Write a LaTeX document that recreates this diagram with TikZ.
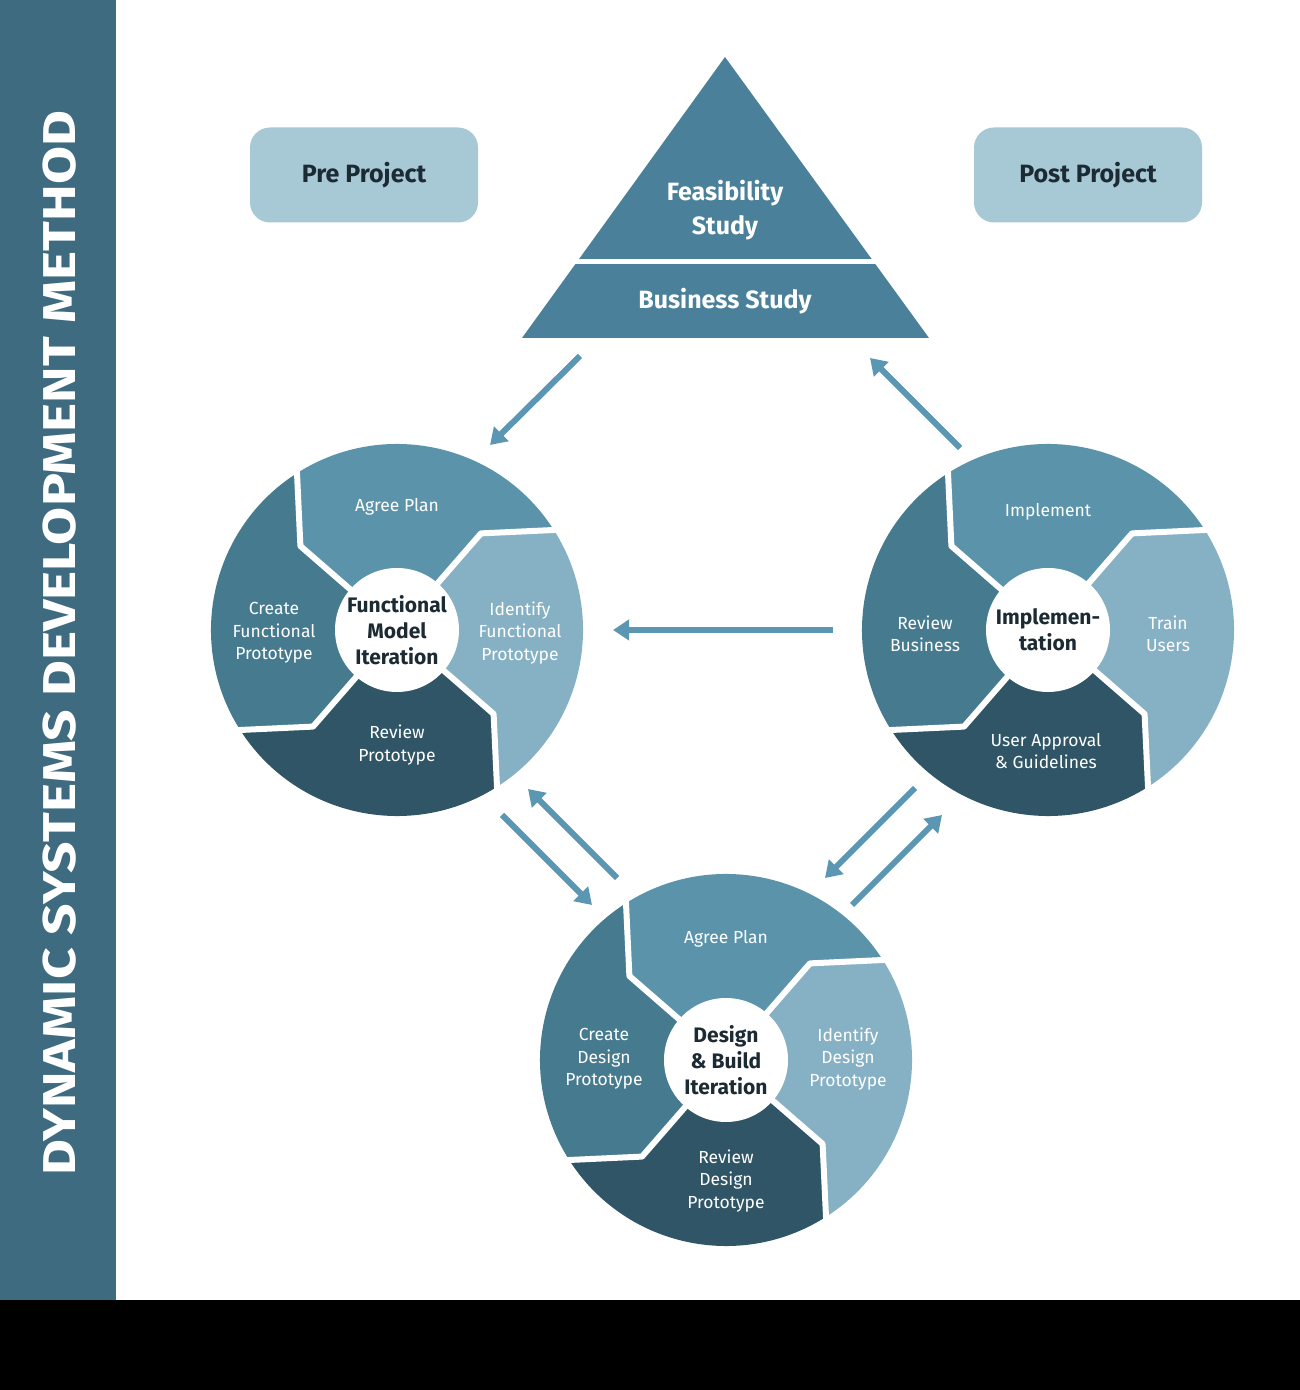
\documentclass[tikz,border=0pt]{standalone}
\usepackage{fontspec}
\setmainfont{Fira Sans}
\usetikzlibrary{arrows.meta}
\definecolor{cTop}{HTML}{5B93AA}
\definecolor{cRight}{HTML}{86B1C4}
\definecolor{cBot}{HTML}{2F5566}
\definecolor{cLeft}{HTML}{467A8F}
\definecolor{cSide}{HTML}{3E6B80}
\definecolor{cTri}{HTML}{4A8099}
\definecolor{cBox}{HTML}{A7C8D5}
\definecolor{cArr}{HTML}{5B97B3}
\definecolor{cTxt}{HTML}{1C2A33}
\tikzset{
  seg/.style={white,font=\fontsize{17.5}{22.5}\selectfont,align=center},
  hub/.style={circle,fill=white,minimum size=124pt,inner sep=0pt,text=cTxt,font=\fontsize{21}{26}\selectfont\bfseries,align=center},
  arr/.style={cArr,line width=6pt,-{Triangle[width=20pt,length=16pt]}},
  pbox/.style={fill=cBox,rounded corners=20pt,minimum width=228pt,minimum height=95pt,text=cTxt,font=\fontsize{25}{30}\selectfont\bfseries},
  tri/.style={white,font=\fontsize{25}{34}\selectfont\bfseries,align=center}
}
\newcommand\mywheel[2]{%
 \begin{scope}[shift={#1}]
  \def\R{186}
  \fill[cTop] (0,0)--(139:128)--(122:\R) arc[start angle=122,end angle=32,radius=\R]--(49:128)--cycle;
  \fill[cRight] (0,0)--(49:128)--(32:\R) arc[start angle=32,end angle=-58,radius=\R]--(-41:128)--cycle;
  \fill[cBot] (0,0)--(-41:128)--(-58:\R) arc[start angle=-58,end angle=-148,radius=\R]--(-131:128)--cycle;
  \fill[cLeft] (0,0)--(-131:128)--(-148:\R) arc[start angle=-148,end angle=-238,radius=\R]--(139:128)--cycle;
  \foreach \a/\b in {139/122,49/32,-41/-58,-131/-148}
    \draw[white,line width=6pt,line join=round] (\a:60)--(\a:128)--(\b:\R+3);
 \end{scope}}
\begin{document}
\begin{tikzpicture}[x=1pt,y=1pt]
\useasboundingbox (0,0) rectangle (1300,1390);
\fill[white] (0,0) rectangle (1300,1390);
\fill[black] (0,0) rectangle (1300,90);
\fill[cSide] (0,90) rectangle (116,1390);
\node[rotate=90,white,font=\fontsize{46}{46}\selectfont\bfseries,xscale=1.2] (side) at (60,747) {DYNAMIC SYSTEMS DEVELOPMENT METHOD};
% triangle
\fill[cTri] (725,1333)--(929,1052)--(522,1052)--cycle;
\draw[white,line width=5pt] (560,1128)--(890,1128);
\node[tri] (feas) at (725,1180) {Feasibility\\Study};
\node[tri] (bus) at (725,1089) {Business Study};
\node[pbox] (pre) at (364,1215) {Pre Project};
\node[pbox] (post) at (1088,1215) {Post Project};
% wheels
\mywheel{(397,760)}{}
\mywheel{(1048,760)}{}
\mywheel{(726,330)}{}
\node[hub] (h1) at (397,760) {Functional\\Model\\Iteration};
\node[seg] (a1) at (397,883) {Agree Plan};
\node[seg] (c1) at (274,757) {Create\\Functional\\Prototype};
\node[seg] (i1) at (520,757) {Identify\\Functional\\Prototype};
\node[seg] (r1) at (397,645) {Review\\Prototype};
\node[hub] (h2) at (1048,760) {Implemen-\\tation};
\node[seg] (a2) at (1048,878) {Implement};
\node[seg] (c2) at (925,756) {Review\\Business};
\node[seg] (i2) at (1168,756) {Train\\Users};
\node[seg] (r2) at (1046,639) {User Approval\\\& Guidelines};
\node[hub] (h3) at (726,330) {Design\\\& Build\\Iteration};
\node[seg] (a3) at (726,451) {Agree Plan};
\node[seg] (c3) at (604,331) {Create\\Design\\Prototype};
\node[seg] (i3) at (848,331) {Identify\\Design\\Prototype};
\node[seg] (r3) at (726,209) {Review\\Design\\Prototype};
% arrows
\coordinate (p1) at (580,1034); \coordinate (q1) at (490,945);
\coordinate (p2) at (960,942); \coordinate (q2) at (870,1032);
\coordinate (p3) at (833,760); \coordinate (q3) at (613,760);
\coordinate (p4) at (502,575); \coordinate (q4) at (592,485);
\coordinate (p5) at (617,512); \coordinate (q5) at (528,601);
\coordinate (p6) at (915,602); \coordinate (q6) at (825,512);
\coordinate (p7) at (852,485); \coordinate (q7) at (942,575);
\foreach \i in {1,...,7} \draw[arr] (p\i)--(q\i);
\end{tikzpicture}
\end{document}
